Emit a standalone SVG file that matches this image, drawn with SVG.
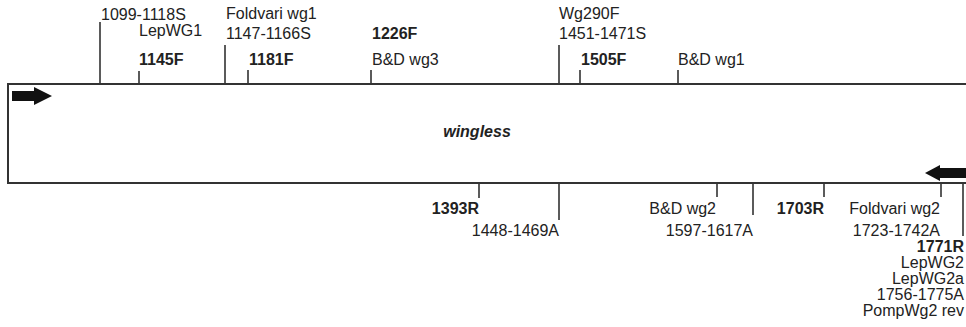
<svg xmlns="http://www.w3.org/2000/svg" width="966" height="327" viewBox="0 0 966 327">
<style>
text{font-family:"Liberation Sans",Arial,sans-serif;font-size:16px;fill:#222}
.b{font-weight:bold}
.r{text-anchor:end}
.t{stroke:#333;stroke-width:1.6;fill:none}
.box{stroke:#333;stroke-width:2;fill:#fff}
.ar{fill:#111}
</style>
<rect width="966" height="327" fill="#fff"/>
<g id="gene">
<path class="box" d="M968 84 H8 V183 H968"/>
<text x="477" y="137" style="font-weight:bold;font-style:italic;font-size:16px;text-anchor:middle">wingless</text>
<polygon id="fwd" class="ar" points="12,91 34,91 34,87 52,96 34,105 34,101 12,101"/>
<polygon id="rev" class="ar" points="966,168 940,168 940,165 925,173 940,181 940,178 966,178"/>
</g>
<g id="connectors">
<path class="t" d="M100 22V84M139 71V84M225 45V84M248 70V84M371 70V84M559 45V84M580 70V84M678 70V84"/>
<path class="t" d="M479 183V198M559 183V220M717 183V197M753 183V215M824 183V197M941 183V197M963 183V236"/>
</g>
<g id="p1099"><text x="101" y="20">1099-1118S</text></g>
<g id="p1145"><text x="139" y="36">LepWG1</text><text class="b" x="139" y="65">1145F</text></g>
<g id="p1147"><text x="226" y="19">Foldvari wg1</text><text x="226" y="39">1147-1166S</text></g>
<g id="p1181"><text class="b" x="249" y="65">1181F</text></g>
<g id="p1226"><text class="b" x="372" y="39">1226F</text><text x="372" y="65">B&amp;D wg3</text></g>
<g id="p1451"><text x="559" y="19">Wg290F</text><text x="559" y="39">1451-1471S</text></g>
<g id="p1505"><text class="b" x="581" y="65">1505F</text></g>
<g id="pbdwg1"><text x="678" y="65">B&amp;D wg1</text></g>
<g id="p1393"><text class="b r" x="479" y="214">1393R</text></g>
<g id="p1448"><text class="r" x="559" y="236">1448-1469A</text></g>
<g id="pbdwg2"><text class="r" x="716" y="214">B&amp;D wg2</text></g>
<g id="p1597"><text class="r" x="753" y="236">1597-1617A</text></g>
<g id="p1703"><text class="b r" x="824" y="214">1703R</text></g>
<g id="p1723"><text class="r" x="940" y="214">Foldvari wg2</text><text class="r" x="940" y="236">1723-1742A</text></g>
<g id="p1771"><text class="b r" x="964" y="252">1771R</text><text class="r" x="964" y="268">LepWG2</text><text class="r" x="964" y="284">LepWG2a</text><text class="r" x="964" y="300">1756-1775A</text><text class="r" x="964" y="316">PompWg2 rev</text></g>
</svg>
